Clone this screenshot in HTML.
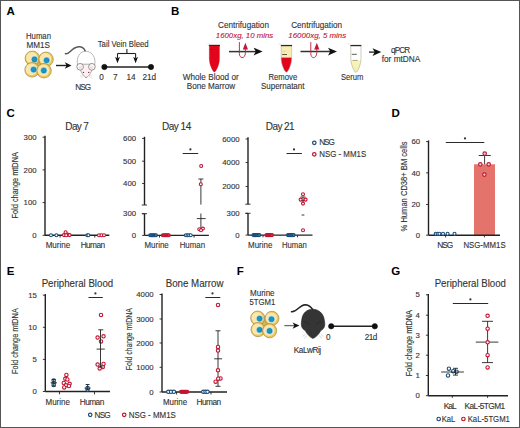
<!DOCTYPE html><html><head><meta charset="utf-8"><style>html,body{margin:0;padding:0;background:#fff;}svg{display:block;}text{font-family:"Liberation Sans",sans-serif;}</style></head><body>
<svg width="520" height="428" viewBox="0 0 520 428">
<rect x="0" y="0" width="520" height="428" fill="#fff"/>
<text x="6.6" y="15.399999999999999" font-size="11.5" fill="#000" font-weight="bold">A</text>
<text x="170.9" y="15.399999999999999" font-size="11.5" fill="#000" font-weight="bold">B</text>
<text x="6.6" y="117.4" font-size="11.5" fill="#000" font-weight="bold">C</text>
<text x="391.40000000000003" y="117.4" font-size="11.5" fill="#000" font-weight="bold">D</text>
<text x="6.8" y="275.0" font-size="11.5" fill="#000" font-weight="bold">E</text>
<text x="236.79999999999998" y="275.0" font-size="11.5" fill="#000" font-weight="bold">F</text>
<text x="391.20000000000005" y="275.2" font-size="11.5" fill="#000" font-weight="bold">G</text>
<text transform="translate(38.5,39) scale(0.9457,1)" font-size="8.2" fill="#333" text-anchor="middle" stroke="#333" stroke-width="0.12">Human</text>
<text transform="translate(38.3,48.2) scale(0.9919,1)" font-size="8.2" fill="#333" text-anchor="middle" stroke="#333" stroke-width="0.12">MM1S</text>
<circle cx="38.625" cy="64.525" r="4" fill="#d9b553"/>
<circle cx="32.4" cy="58.3" r="7.3" fill="#f0c455" stroke="#8f7e4a" stroke-width="0.6"/>
<circle cx="31.9" cy="57.9" r="5.8" fill="#f9e7ad"/>
<circle cx="34.5" cy="59.4" r="3.4" fill="#a3dcea"/>
<circle cx="34.5" cy="59.4" r="2.55" fill="#1795c4" stroke="#11708f" stroke-width="0.4"/>
<circle cx="46" cy="59.3" r="7.3" fill="#f0c455" stroke="#8f7e4a" stroke-width="0.6"/>
<circle cx="45.5" cy="58.9" r="5.8" fill="#f9e7ad"/>
<circle cx="46.6" cy="60.3" r="3.4" fill="#a3dcea"/>
<circle cx="46.6" cy="60.3" r="2.55" fill="#1795c4" stroke="#11708f" stroke-width="0.4"/>
<circle cx="32.1" cy="69.8" r="7.3" fill="#f0c455" stroke="#8f7e4a" stroke-width="0.6"/>
<circle cx="31.6" cy="69.39999999999999" r="5.8" fill="#f9e7ad"/>
<circle cx="33.6" cy="69.6" r="3.4" fill="#a3dcea"/>
<circle cx="33.6" cy="69.6" r="2.55" fill="#1795c4" stroke="#11708f" stroke-width="0.4"/>
<circle cx="44" cy="70.7" r="7.3" fill="#f0c455" stroke="#8f7e4a" stroke-width="0.6"/>
<circle cx="43.5" cy="70.3" r="5.8" fill="#f9e7ad"/>
<circle cx="43.8" cy="70.5" r="3.4" fill="#a3dcea"/>
<circle cx="43.8" cy="70.5" r="2.55" fill="#1795c4" stroke="#11708f" stroke-width="0.4"/>
<line x1="56" y1="65.5" x2="67.5" y2="65.5" stroke="#222" stroke-width="1.4"/>
<path d="M64.8,62.3 L71.5,65.5 L64.8,68.7 L66.6,65.5 Z" fill="#111"/>
<path d="M65.4,53.6 C66.5,54.2 68.5,53.2 70.5,51.2 C72.8,49 75.5,47 78.5,46.7 C81.5,46.5 84,47.8 85.3,51.2" fill="none" stroke="#5a5a5a" stroke-width="1.5" stroke-linecap="round"/>
<path d="M77.4,65.5 L77.3,61.2 C77.4,55.6 80.6,51.3 85.8,51.3 C91,51.3 94.8,55.6 94.9,61.2 L94.8,65.5" fill="#fff" stroke="#8a8a8a" stroke-width="0.6"/>
<path d="M79.6,64.2 C79.8,70 82,75 86.2,77.8 C90.4,75 92.6,70 92.8,64.2 Z" fill="#fbf0f2" stroke="#7a7a7a" stroke-width="0.6"/>
<circle cx="80.1" cy="66.8" r="3.3" fill="#fff" stroke="#666" stroke-width="0.7"/><circle cx="91.9" cy="66.8" r="3.3" fill="#fff" stroke="#666" stroke-width="0.7"/>
<ellipse cx="80.6" cy="67.4" rx="2" ry="2" fill="#f4e0e6"/><ellipse cx="91.4" cy="67.4" rx="2" ry="2" fill="#f4e0e6"/>
<circle cx="83.5" cy="72.4" r="0.7" fill="#8a2040"/><circle cx="88.7" cy="72.4" r="0.7" fill="#8a2040"/><circle cx="86.2" cy="77.3" r="0.6" fill="#c07080"/>
<path d="M80,76 L83.5,75 M80.5,78 L83.8,76 M92.4,76 L89,75 M92,78 L88.7,76" stroke="#bbb" stroke-width="0.4"/>
<text x="82.76" y="90" letter-spacing="-0.885" font-size="8.2" fill="#333" text-anchor="middle" stroke="#333" stroke-width="0.12">NSG</text>
<text transform="translate(123.2,46.9) scale(0.9481,1)" font-size="8.2" fill="#333" text-anchor="middle" stroke="#333" stroke-width="0.12">Tail Vein Bleed</text>
<line x1="126.9" y1="49" x2="126.9" y2="53.5" stroke="#222" stroke-width="1.1"/>
<line x1="117.5" y1="53.5" x2="135.6" y2="53.5" stroke="#222" stroke-width="1.1"/>
<line x1="117.5" y1="53.5" x2="117.5" y2="58" stroke="#222" stroke-width="1.1"/>
<line x1="135.6" y1="53.5" x2="135.6" y2="58" stroke="#222" stroke-width="1.1"/>
<path d="M115.1,57 L117.5,63.3 L119.9,57 L117.5,58.3 Z" fill="#111"/>
<path d="M133.2,57 L135.6,63.3 L138,57 L135.6,58.3 Z" fill="#111"/>
<line x1="104.4" y1="66.9" x2="151" y2="66.9" stroke="#222" stroke-width="1.5"/>
<circle cx="104.4" cy="67" r="2.7" stroke="#111" fill="#111" stroke-width="0.5"/>
<circle cx="151" cy="67" r="2.7" stroke="#111" fill="#111" stroke-width="0.5"/>
<text x="101.6" y="80.2" font-size="8.2" fill="#333" text-anchor="middle" stroke="#333" stroke-width="0.12">0</text>
<text x="115.3" y="80.2" font-size="8.2" fill="#333" text-anchor="middle" stroke="#333" stroke-width="0.12">7</text>
<text x="131" y="80.2" font-size="8.2" fill="#333" text-anchor="middle" stroke="#333" stroke-width="0.12">14</text>
<text x="149.3" y="80.2" font-size="8.2" fill="#333" text-anchor="middle" stroke="#333" stroke-width="0.12">21d</text>
<path d="M209.3,46 L219.5,46 L219.5,58.5 C219.5,64.5 216.0,72 214.4,72 C212.8,72 209.3,64.5 209.3,58.5 Z" fill="#e2061c" stroke="#c01020" stroke-width="0.3"/>
<line x1="209.6" y1="49.5" x2="213" y2="49.5" stroke="#b00010" stroke-width="0.6"/>
<line x1="208.8" y1="45.4" x2="220" y2="45.4" stroke="#2a2a2a" stroke-width="1.2"/>
<line x1="207.5" y1="44" x2="210" y2="44" stroke="#ccc" stroke-width="0.5"/>
<clipPath id="t2"><path d="M281.2,46 L291.6,46 L291.6,58.5 C291.6,64.5 288.0,72.2 286.4,72.2 C284.79999999999995,72.2 281.2,64.5 281.2,58.5 Z"/></clipPath>
<path d="M281.2,46 L291.6,46 L291.6,58.5 C291.6,64.5 288.0,72.2 286.4,72.2 C284.79999999999995,72.2 281.2,64.5 281.2,58.5 Z" fill="#fff"/>
<rect x="280" y="46" width="13" height="11.8" fill="#f8eeb5" clip-path="url(#t2)"/>
<rect x="280" y="57.6" width="13" height="16" fill="#e2061c" clip-path="url(#t2)"/>
<path d="M281.2,46 L291.6,46 L291.6,58.5 C291.6,64.5 288.0,72.2 286.4,72.2 C284.79999999999995,72.2 281.2,64.5 281.2,58.5 Z" fill="none" stroke="#a09a80" stroke-width="0.45"/>
<line x1="282.2" y1="54.5" x2="287" y2="54.5" stroke="#3a3020" stroke-width="0.8"/>
<line x1="282.5" y1="51.3" x2="285.5" y2="51.3" stroke="#c8bb88" stroke-width="0.5"/>
<line x1="280.8" y1="45.5" x2="292.1" y2="45.5" stroke="#2a2a2a" stroke-width="1.2"/>
<line x1="278.5" y1="44" x2="281" y2="44" stroke="#ccc" stroke-width="0.5"/>
<clipPath id="t3"><path d="M350.8,46 L361,46 L361,58.5 C361,64.5 357.5,72.4 355.9,72.4 C354.29999999999995,72.4 350.8,64.5 350.8,58.5 Z"/></clipPath>
<path d="M350.8,46 L361,46 L361,58.5 C361,64.5 357.5,72.4 355.9,72.4 C354.29999999999995,72.4 350.8,64.5 350.8,58.5 Z" fill="#fff"/>
<linearGradient id="yg" x1="0" y1="0" x2="0" y2="1"><stop offset="0" stop-color="#f7f4c0"/><stop offset="1" stop-color="#f3eea8"/></linearGradient>
<rect x="350" y="60.3" width="12" height="13" fill="url(#yg)" clip-path="url(#t3)"/>
<path d="M350.8,46 L361,46 L361,58.5 C361,64.5 357.5,72.4 355.9,72.4 C354.29999999999995,72.4 350.8,64.5 350.8,58.5 Z" fill="none" stroke="#9a9a80" stroke-width="0.5"/>
<line x1="351.8" y1="54.3" x2="356.8" y2="54.3" stroke="#333" stroke-width="0.8"/>
<line x1="352.6" y1="60.4" x2="357.6" y2="60.4" stroke="#8a8450" stroke-width="0.7"/>
<line x1="350.4" y1="45.5" x2="361.4" y2="45.5" stroke="#2a2a2a" stroke-width="1.2"/>
<line x1="347.5" y1="44" x2="350" y2="44" stroke="#ccc" stroke-width="0.5"/>
<line x1="229" y1="51.6" x2="258.6" y2="51.6" stroke="#333" stroke-width="1.5"/>
<path d="M253.60000000000002,47.7 L262.6,51.6 L253.60000000000002,55.5 L255.8,51.6 Z" fill="#111"/>
<path d="M239.4,42.1 L239.4,53.6 C239.4,59.1 245.4,59.1 245.4,52.6 L245.4,49.1" fill="none" stroke="#b0203c" stroke-width="0.9"/>
<path d="M242.8,49.6 L245.4,42.8 L248.0,49.6 Z" fill="#c0183a"/>
<line x1="300.5" y1="51.6" x2="333" y2="51.6" stroke="#333" stroke-width="1.5"/>
<path d="M328,47.7 L337,51.6 L328,55.5 L330.2,51.6 Z" fill="#111"/>
<path d="M310.8,42.1 L310.8,53.6 C310.8,59.1 316.8,59.1 316.8,52.6 L316.8,49.1" fill="none" stroke="#b0203c" stroke-width="0.9"/>
<path d="M314.2,49.6 L316.8,42.8 L319.40000000000003,49.6 Z" fill="#c0183a"/>
<line x1="369" y1="52.1" x2="377" y2="52.1" stroke="#222" stroke-width="1.3"/>
<path d="M372.5,48.3 L381.3,52.1 L372.5,55.9 L374.7,52.1 Z" fill="#111"/>
<text transform="translate(243.5,27.8) scale(0.9869,1)" font-size="8.3" fill="#333" text-anchor="middle" stroke="#333" stroke-width="0.12">Centrifugation</text>
<text transform="translate(244.5,37.7) scale(0.9778,1)" font-size="8" fill="#c01632" text-anchor="middle" font-style="italic" stroke="#c01632" stroke-width="0.12">1600xg, 10 mins</text>
<text transform="translate(316.6,27.8) scale(0.9869,1)" font-size="8.3" fill="#333" text-anchor="middle" stroke="#333" stroke-width="0.12">Centrifugation</text>
<text transform="translate(317.2,37.7) scale(0.9880,1)" font-size="8" fill="#c01632" text-anchor="middle" font-style="italic" stroke="#c01632" stroke-width="0.12">16000xg, 5 mins</text>
<text transform="translate(210.7,79.8) scale(0.9989,1)" font-size="8.2" fill="#333" text-anchor="middle" stroke="#333" stroke-width="0.12">Whole Blood or</text>
<text transform="translate(211,89.3) scale(0.9946,1)" font-size="8.2" fill="#333" text-anchor="middle" stroke="#333" stroke-width="0.12">Bone Marrow</text>
<text transform="translate(282.8,79.6) scale(0.9432,1)" font-size="8.2" fill="#333" text-anchor="middle" stroke="#333" stroke-width="0.12">Remove</text>
<text transform="translate(282.7,89.3) scale(0.9758,1)" font-size="8.2" fill="#333" text-anchor="middle" stroke="#333" stroke-width="0.12">Supernatant</text>
<text transform="translate(352.2,79.6) scale(0.9316,1)" font-size="8.2" fill="#333" text-anchor="middle" stroke="#333" stroke-width="0.12">Serum</text>
<text x="400.12" y="52.7" letter-spacing="-0.958" font-size="8.2" fill="#333" text-anchor="middle" stroke="#333" stroke-width="0.12">qPCR</text>
<text transform="translate(401,61.7) scale(1.0112,1)" font-size="8.2" fill="#333" text-anchor="middle" stroke="#333" stroke-width="0.12">for mtDNA</text>
<text x="76.77" y="129.6" letter-spacing="-0.656" font-size="10" fill="#333" text-anchor="middle" stroke="#333" stroke-width="0.12">Day 7</text>
<text transform="translate(17.9,185.3) rotate(-90) scale(0.8218,1)" font-size="9" fill="#333" text-anchor="middle" stroke="#333" stroke-width="0.12">Fold change mtDNA</text>
<line x1="45" y1="135.8" x2="45" y2="235.3" stroke="#222" stroke-width="1.4"/>
<line x1="42.6" y1="137.2" x2="45" y2="137.2" stroke="#222" stroke-width="0.9"/>
<text transform="translate(36.6,139.85) scale(1.0700,1)" font-size="7.3" fill="#333" text-anchor="end" stroke="#333" stroke-width="0.12">300</text>
<line x1="42.6" y1="169.9" x2="45" y2="169.9" stroke="#222" stroke-width="0.9"/>
<text transform="translate(36.6,172.55) scale(1.0700,1)" font-size="7.3" fill="#333" text-anchor="end" stroke="#333" stroke-width="0.12">200</text>
<line x1="42.6" y1="202.6" x2="45" y2="202.6" stroke="#222" stroke-width="0.9"/>
<text transform="translate(36.6,205.25) scale(1.0700,1)" font-size="7.3" fill="#333" text-anchor="end" stroke="#333" stroke-width="0.12">100</text>
<line x1="42.6" y1="235.3" x2="45" y2="235.3" stroke="#222" stroke-width="0.9"/>
<text transform="translate(36.6,237.95000000000002) scale(1.0700,1)" font-size="7.3" fill="#333" text-anchor="end" stroke="#333" stroke-width="0.12">0</text>
<line x1="45" y1="235.3" x2="109.3" y2="235.3" stroke="#222" stroke-width="1.4"/>
<line x1="60.1" y1="235.3" x2="60.1" y2="237.6" stroke="#222" stroke-width="0.9"/>
<line x1="94.8" y1="235.3" x2="94.8" y2="237.6" stroke="#222" stroke-width="0.9"/>
<circle cx="51" cy="235.2" r="1.5" stroke="#1b4c78" fill="#fff" stroke-width="1.1"/>
<circle cx="56.4" cy="235.2" r="1.5" stroke="#1b4c78" fill="#fff" stroke-width="1.1"/>
<circle cx="64" cy="235.1" r="1.5" stroke="#c01632" fill="#fff" stroke-width="1.1"/>
<circle cx="65.6" cy="232.3" r="1.5" stroke="#c01632" fill="#fff" stroke-width="1.1"/>
<circle cx="67.6" cy="234.6" r="1.5" stroke="#c01632" fill="#fff" stroke-width="1.1"/>
<circle cx="69.6" cy="235.1" r="1.5" stroke="#c01632" fill="#fff" stroke-width="1.1"/>
<circle cx="66.2" cy="235.3" r="1.5" stroke="#c01632" fill="#fff" stroke-width="1.1"/>
<circle cx="87.4" cy="235.2" r="1.5" stroke="#1b4c78" fill="#fff" stroke-width="1.1"/>
<circle cx="88.4" cy="235.2" r="1.5" stroke="#1b4c78" fill="#fff" stroke-width="1.1"/>
<circle cx="99" cy="235.2" r="1.5" stroke="#c01632" fill="#fff" stroke-width="1.1"/>
<circle cx="101.5" cy="235.2" r="1.5" stroke="#c01632" fill="#fff" stroke-width="1.1"/>
<circle cx="104" cy="235.2" r="1.5" stroke="#c01632" fill="#fff" stroke-width="1.1"/>
<text transform="translate(57.9,248) scale(0.9696,1)" font-size="8.3" fill="#333" text-anchor="middle" stroke="#333" stroke-width="0.12">Murine</text>
<text x="92.62" y="248" letter-spacing="-0.564" font-size="8.3" fill="#333" text-anchor="middle" stroke="#333" stroke-width="0.12">Human</text>
<text x="176.37" y="129.6" letter-spacing="-0.457" font-size="10" fill="#333" text-anchor="middle" stroke="#333" stroke-width="0.12">Day 14</text>
<line x1="144.5" y1="136.8" x2="144.5" y2="205" stroke="#222" stroke-width="1.4"/>
<line x1="144.5" y1="213.7" x2="144.5" y2="235.4" stroke="#222" stroke-width="1.4"/>
<line x1="142.1" y1="138.4" x2="144.5" y2="138.4" stroke="#222" stroke-width="0.9"/>
<text transform="translate(136.1,141.05) scale(1.0700,1)" font-size="7.3" fill="#333" text-anchor="end" stroke="#333" stroke-width="0.12">600</text>
<line x1="142.1" y1="161.2" x2="144.5" y2="161.2" stroke="#222" stroke-width="0.9"/>
<text transform="translate(136.1,163.85) scale(1.0700,1)" font-size="7.3" fill="#333" text-anchor="end" stroke="#333" stroke-width="0.12">500</text>
<line x1="142.1" y1="183.5" x2="144.5" y2="183.5" stroke="#222" stroke-width="0.9"/>
<text transform="translate(136.1,186.15) scale(1.0700,1)" font-size="7.3" fill="#333" text-anchor="end" stroke="#333" stroke-width="0.12">400</text>
<line x1="142.1" y1="213.7" x2="144.5" y2="213.7" stroke="#222" stroke-width="0.9"/>
<text transform="translate(136.1,216.35) scale(1.0700,1)" font-size="7.3" fill="#333" text-anchor="end" stroke="#333" stroke-width="0.12">300</text>
<line x1="142.1" y1="235.4" x2="144.5" y2="235.4" stroke="#222" stroke-width="0.9"/>
<text transform="translate(136.1,238.05) scale(1.0700,1)" font-size="7.3" fill="#333" text-anchor="end" stroke="#333" stroke-width="0.12">0</text>
<line x1="141.8" y1="205" x2="147" y2="205" stroke="#222" stroke-width="0.9"/>
<line x1="141.8" y1="213.7" x2="147" y2="213.7" stroke="#222" stroke-width="0.9"/>
<line x1="144.5" y1="235.4" x2="208.9" y2="235.4" stroke="#222" stroke-width="1.4"/>
<line x1="159.5" y1="235.4" x2="159.5" y2="237.6" stroke="#222" stroke-width="0.9"/>
<line x1="194.1" y1="235.4" x2="194.1" y2="237.6" stroke="#222" stroke-width="0.9"/>
<circle cx="150.2" cy="235.3" r="1.5" stroke="#1b4c78" fill="#4f79a0" stroke-width="1.1"/>
<circle cx="151.34" cy="235.3" r="1.5" stroke="#1b4c78" fill="#4f79a0" stroke-width="1.1"/>
<circle cx="152.48" cy="235.3" r="1.5" stroke="#1b4c78" fill="#4f79a0" stroke-width="1.1"/>
<circle cx="153.62" cy="235.3" r="1.5" stroke="#1b4c78" fill="#4f79a0" stroke-width="1.1"/>
<circle cx="154.76" cy="235.3" r="1.5" stroke="#1b4c78" fill="#4f79a0" stroke-width="1.1"/>
<circle cx="155.9" cy="235.3" r="1.5" stroke="#1b4c78" fill="#4f79a0" stroke-width="1.1"/>
<circle cx="162.9" cy="235.3" r="1.5" stroke="#c01632" fill="#d4303e" stroke-width="1.1"/>
<circle cx="164.08" cy="235.3" r="1.5" stroke="#c01632" fill="#d4303e" stroke-width="1.1"/>
<circle cx="165.26000000000002" cy="235.3" r="1.5" stroke="#c01632" fill="#d4303e" stroke-width="1.1"/>
<circle cx="166.44" cy="235.3" r="1.5" stroke="#c01632" fill="#d4303e" stroke-width="1.1"/>
<circle cx="167.62" cy="235.3" r="1.5" stroke="#c01632" fill="#d4303e" stroke-width="1.1"/>
<circle cx="168.8" cy="235.3" r="1.5" stroke="#c01632" fill="#d4303e" stroke-width="1.1"/>
<circle cx="185.9" cy="235.3" r="1.5" stroke="#1b4c78" fill="#fff" stroke-width="1.1"/>
<circle cx="187.5" cy="235.3" r="1.5" stroke="#1b4c78" fill="#fff" stroke-width="1.1"/>
<circle cx="189.1" cy="235.3" r="1.5" stroke="#1b4c78" fill="#fff" stroke-width="1.1"/>
<circle cx="190.7" cy="235.3" r="1.5" stroke="#1b4c78" fill="#fff" stroke-width="1.1"/>
<line x1="200.9" y1="179" x2="200.9" y2="204.6" stroke="#222" stroke-width="0.9"/>
<line x1="198.4" y1="179" x2="203.4" y2="179" stroke="#222" stroke-width="0.9"/>
<line x1="200.9" y1="213.5" x2="200.9" y2="229" stroke="#222" stroke-width="0.9"/>
<line x1="196.8" y1="218.6" x2="205.6" y2="218.6" stroke="#222" stroke-width="0.9"/>
<circle cx="201.2" cy="166" r="1.5" stroke="#c01632" fill="#fff" stroke-width="1.1"/>
<circle cx="200.8" cy="184.3" r="1.5" stroke="#c01632" fill="#fff" stroke-width="1.1"/>
<circle cx="199.3" cy="229.3" r="1.5" stroke="#c01632" fill="#fff" stroke-width="1.1"/>
<circle cx="202.9" cy="228.6" r="1.5" stroke="#c01632" fill="#fff" stroke-width="1.1"/>
<circle cx="201" cy="230.2" r="1.5" stroke="#c01632" fill="#fff" stroke-width="1.1"/>
<line x1="182.7" y1="153.5" x2="198.2" y2="153.5" stroke="#2a2a2a" stroke-width="1.0"/>
<circle cx="190.4" cy="149.4" r="1.1" fill="#333"/>
<text transform="translate(156.6,248.1) scale(0.9538,1)" font-size="8.3" fill="#333" text-anchor="middle" stroke="#333" stroke-width="0.12">Murine</text>
<text transform="translate(192.4,248.1) scale(0.9530,1)" font-size="8.3" fill="#333" text-anchor="middle" stroke="#333" stroke-width="0.12">Human</text>
<text x="279.91" y="129.6" letter-spacing="-0.577" font-size="10" fill="#333" text-anchor="middle" stroke="#333" stroke-width="0.12">Day 21</text>
<line x1="248" y1="137.3" x2="248" y2="204.2" stroke="#222" stroke-width="1.4"/>
<line x1="248" y1="213.3" x2="248" y2="235.1" stroke="#222" stroke-width="1.4"/>
<line x1="245.6" y1="139" x2="248" y2="139" stroke="#222" stroke-width="0.9"/>
<text transform="translate(239.6,141.65) scale(1.0700,1)" font-size="7.3" fill="#333" text-anchor="end" stroke="#333" stroke-width="0.12">6000</text>
<line x1="245.6" y1="162.5" x2="248" y2="162.5" stroke="#222" stroke-width="0.9"/>
<text transform="translate(239.6,165.15) scale(1.0700,1)" font-size="7.3" fill="#333" text-anchor="end" stroke="#333" stroke-width="0.12">4000</text>
<line x1="245.6" y1="186.5" x2="248" y2="186.5" stroke="#222" stroke-width="0.9"/>
<text transform="translate(239.6,189.15) scale(1.0700,1)" font-size="7.3" fill="#333" text-anchor="end" stroke="#333" stroke-width="0.12">2000</text>
<line x1="245.6" y1="213.3" x2="248" y2="213.3" stroke="#222" stroke-width="0.9"/>
<text transform="translate(239.6,215.95000000000002) scale(1.0700,1)" font-size="7.3" fill="#333" text-anchor="end" stroke="#333" stroke-width="0.12">300</text>
<line x1="245.6" y1="235.1" x2="248" y2="235.1" stroke="#222" stroke-width="0.9"/>
<text transform="translate(239.6,237.75) scale(1.0700,1)" font-size="7.3" fill="#333" text-anchor="end" stroke="#333" stroke-width="0.12">0</text>
<line x1="245.3" y1="204.2" x2="250.5" y2="204.2" stroke="#222" stroke-width="0.9"/>
<line x1="245.3" y1="213.3" x2="250.5" y2="213.3" stroke="#222" stroke-width="0.9"/>
<line x1="248" y1="235.1" x2="312.5" y2="235.1" stroke="#222" stroke-width="1.4"/>
<line x1="263" y1="235.1" x2="263" y2="237.3" stroke="#222" stroke-width="0.9"/>
<line x1="297.5" y1="235.1" x2="297.5" y2="237.3" stroke="#222" stroke-width="0.9"/>
<circle cx="253.5" cy="235.1" r="1.5" stroke="#1b4c78" fill="#4f79a0" stroke-width="1.1"/>
<circle cx="254.66" cy="235.1" r="1.5" stroke="#1b4c78" fill="#4f79a0" stroke-width="1.1"/>
<circle cx="255.82" cy="235.1" r="1.5" stroke="#1b4c78" fill="#4f79a0" stroke-width="1.1"/>
<circle cx="256.98" cy="235.1" r="1.5" stroke="#1b4c78" fill="#4f79a0" stroke-width="1.1"/>
<circle cx="258.14" cy="235.1" r="1.5" stroke="#1b4c78" fill="#4f79a0" stroke-width="1.1"/>
<circle cx="259.3" cy="235.1" r="1.5" stroke="#1b4c78" fill="#4f79a0" stroke-width="1.1"/>
<circle cx="266.5" cy="235.1" r="1.5" stroke="#c01632" fill="#d4303e" stroke-width="1.1"/>
<circle cx="267.6" cy="235.1" r="1.5" stroke="#c01632" fill="#d4303e" stroke-width="1.1"/>
<circle cx="268.7" cy="235.1" r="1.5" stroke="#c01632" fill="#d4303e" stroke-width="1.1"/>
<circle cx="269.8" cy="235.1" r="1.5" stroke="#c01632" fill="#d4303e" stroke-width="1.1"/>
<circle cx="270.9" cy="235.1" r="1.5" stroke="#c01632" fill="#d4303e" stroke-width="1.1"/>
<circle cx="272.0" cy="235.1" r="1.5" stroke="#c01632" fill="#d4303e" stroke-width="1.1"/>
<circle cx="288.0" cy="235.1" r="1.5" stroke="#1b4c78" fill="#4f79a0" stroke-width="1.1"/>
<circle cx="289.12" cy="235.1" r="1.5" stroke="#1b4c78" fill="#4f79a0" stroke-width="1.1"/>
<circle cx="290.24" cy="235.1" r="1.5" stroke="#1b4c78" fill="#4f79a0" stroke-width="1.1"/>
<circle cx="291.36" cy="235.1" r="1.5" stroke="#1b4c78" fill="#4f79a0" stroke-width="1.1"/>
<circle cx="292.48" cy="235.1" r="1.5" stroke="#1b4c78" fill="#4f79a0" stroke-width="1.1"/>
<circle cx="293.6" cy="235.1" r="1.5" stroke="#1b4c78" fill="#4f79a0" stroke-width="1.1"/>
<line x1="303" y1="197" x2="303" y2="204.2" stroke="#222" stroke-width="0.9"/>
<line x1="300.5" y1="197" x2="305.5" y2="197" stroke="#222" stroke-width="0.9"/>
<line x1="299" y1="200.7" x2="307" y2="200.7" stroke="#222" stroke-width="0.9"/>
<line x1="301.6" y1="215" x2="304.4" y2="215" stroke="#222" stroke-width="0.9"/>
<circle cx="303" cy="194.3" r="1.5" stroke="#c01632" fill="#fff" stroke-width="1.1"/>
<circle cx="300.6" cy="199.6" r="1.5" stroke="#c01632" fill="#fff" stroke-width="1.1"/>
<circle cx="305.6" cy="199.6" r="1.5" stroke="#c01632" fill="#fff" stroke-width="1.1"/>
<circle cx="303" cy="203.6" r="1.5" stroke="#c01632" fill="#fff" stroke-width="1.1"/>
<circle cx="303" cy="230.3" r="1.5" stroke="#c01632" fill="#fff" stroke-width="1.1"/>
<line x1="286.5" y1="153.5" x2="301.9" y2="153.5" stroke="#2a2a2a" stroke-width="1.0"/>
<circle cx="294" cy="149.4" r="1.1" fill="#333"/>
<text transform="translate(260.2,248.1) scale(0.9617,1)" font-size="8.3" fill="#333" text-anchor="middle" stroke="#333" stroke-width="0.12">Murine</text>
<text transform="translate(294.3,248.1) scale(0.9306,1)" font-size="8.3" fill="#333" text-anchor="middle" stroke="#333" stroke-width="0.12">Human</text>
<circle cx="314.3" cy="142.8" r="1.75" stroke="#1b4c78" fill="#fff" stroke-width="1.2"/>
<text x="319.20" y="145.4" letter-spacing="-0.985" font-size="8.2" fill="#333" stroke="#333" stroke-width="0.12">NSG</text>
<circle cx="314.3" cy="154.3" r="1.75" stroke="#c01632" fill="#fff" stroke-width="1.2"/>
<text transform="translate(319.2,157.1) scale(0.9641,1)" font-size="8.2" fill="#333" stroke="#333" stroke-width="0.12">NSG - MM1S</text>
<text transform="translate(407,186.5) rotate(-90) scale(0.8428,1)" font-size="9" fill="#333" text-anchor="middle" stroke="#333" stroke-width="0.12">% Human CD38+ BM cells</text>
<rect x="474" y="164.3" width="21" height="70.9" fill="#e4746b"/>
<line x1="428.5" y1="140.4" x2="428.5" y2="235.2" stroke="#222" stroke-width="1.4"/>
<line x1="426.1" y1="141.6" x2="428.5" y2="141.6" stroke="#222" stroke-width="0.9"/>
<text transform="translate(420.1,144.25) scale(1.0700,1)" font-size="7.3" fill="#333" text-anchor="end" stroke="#333" stroke-width="0.12">60</text>
<line x1="426.1" y1="172.9" x2="428.5" y2="172.9" stroke="#222" stroke-width="0.9"/>
<text transform="translate(420.1,175.55) scale(1.0700,1)" font-size="7.3" fill="#333" text-anchor="end" stroke="#333" stroke-width="0.12">40</text>
<line x1="426.1" y1="204.5" x2="428.5" y2="204.5" stroke="#222" stroke-width="0.9"/>
<text transform="translate(420.1,207.15) scale(1.0700,1)" font-size="7.3" fill="#333" text-anchor="end" stroke="#333" stroke-width="0.12">20</text>
<line x1="426.1" y1="235.2" x2="428.5" y2="235.2" stroke="#222" stroke-width="0.9"/>
<text transform="translate(420.1,237.85) scale(1.0700,1)" font-size="7.3" fill="#333" text-anchor="end" stroke="#333" stroke-width="0.12">0</text>
<line x1="428.5" y1="235.2" x2="500" y2="235.2" stroke="#222" stroke-width="1.4"/>
<line x1="445.6" y1="235.2" x2="445.6" y2="237.4" stroke="#222" stroke-width="0.9"/>
<line x1="484.4" y1="235.2" x2="484.4" y2="237.4" stroke="#222" stroke-width="0.9"/>
<line x1="484.6" y1="155.5" x2="484.6" y2="164.3" stroke="#222" stroke-width="0.9"/>
<line x1="478.7" y1="155.5" x2="490.8" y2="155.5" stroke="#222" stroke-width="0.9"/>
<circle cx="484.7" cy="153.6" r="1.75" stroke="#c01632" fill="#f4d4d0" stroke-width="1.15"/>
<circle cx="480.3" cy="164.3" r="1.75" stroke="#c01632" fill="#f4d4d0" stroke-width="1.15"/>
<circle cx="488.7" cy="164.3" r="1.75" stroke="#c01632" fill="#f4d4d0" stroke-width="1.15"/>
<circle cx="484.4" cy="174.6" r="1.75" stroke="#c01632" fill="#f4d4d0" stroke-width="1.15"/>
<circle cx="435.7" cy="233.8" r="1.5" stroke="#1b4c78" fill="#fff" stroke-width="1.1"/>
<circle cx="437.6" cy="233.8" r="1.5" stroke="#1b4c78" fill="#fff" stroke-width="1.1"/>
<circle cx="439.4" cy="233.8" r="1.5" stroke="#1b4c78" fill="#fff" stroke-width="1.1"/>
<circle cx="443" cy="233.8" r="1.5" stroke="#1b4c78" fill="#fff" stroke-width="1.1"/>
<circle cx="447.6" cy="233.8" r="1.5" stroke="#1b4c78" fill="#fff" stroke-width="1.1"/>
<circle cx="454.5" cy="233.8" r="1.5" stroke="#1b4c78" fill="#fff" stroke-width="1.1"/>
<line x1="445.8" y1="142.5" x2="484.3" y2="142.5" stroke="#2a2a2a" stroke-width="1.0"/>
<circle cx="465" cy="138.4" r="1.1" fill="#333"/>
<text x="444.78" y="248.2" letter-spacing="-1.043" font-size="8.3" fill="#333" text-anchor="middle" stroke="#333" stroke-width="0.12">NSG</text>
<text transform="translate(484.5,248.2) scale(0.9456,1)" font-size="8.3" fill="#333" text-anchor="middle" stroke="#333" stroke-width="0.12">NSG-MM1S</text>
<text transform="translate(77.4,287.3) scale(0.9684,1)" font-size="10" fill="#333" text-anchor="middle" stroke="#333" stroke-width="0.12">Peripheral Blood</text>
<text transform="translate(18,341.1) rotate(-90) scale(0.8120,1)" font-size="9" fill="#333" text-anchor="middle" stroke="#333" stroke-width="0.12">Fold change mtDNA</text>
<line x1="45.3" y1="294" x2="45.3" y2="391.5" stroke="#222" stroke-width="1.4"/>
<line x1="42.9" y1="295.2" x2="45.3" y2="295.2" stroke="#222" stroke-width="0.9"/>
<text transform="translate(36.9,297.84999999999997) scale(1.0700,1)" font-size="7.3" fill="#333" text-anchor="end" stroke="#333" stroke-width="0.12">15</text>
<line x1="42.9" y1="327.3" x2="45.3" y2="327.3" stroke="#222" stroke-width="0.9"/>
<text transform="translate(36.9,329.95) scale(1.0700,1)" font-size="7.3" fill="#333" text-anchor="end" stroke="#333" stroke-width="0.12">10</text>
<line x1="42.9" y1="359.4" x2="45.3" y2="359.4" stroke="#222" stroke-width="0.9"/>
<text transform="translate(36.9,362.04999999999995) scale(1.0700,1)" font-size="7.3" fill="#333" text-anchor="end" stroke="#333" stroke-width="0.12">5</text>
<line x1="42.9" y1="391.5" x2="45.3" y2="391.5" stroke="#222" stroke-width="0.9"/>
<text transform="translate(36.9,394.15) scale(1.0700,1)" font-size="7.3" fill="#333" text-anchor="end" stroke="#333" stroke-width="0.12">0</text>
<line x1="45.3" y1="391.5" x2="110" y2="391.5" stroke="#222" stroke-width="1.4"/>
<line x1="59.5" y1="391.5" x2="59.5" y2="394.3" stroke="#222" stroke-width="0.9"/>
<line x1="94.5" y1="391.5" x2="94.5" y2="394.3" stroke="#222" stroke-width="0.9"/>
<circle cx="53.7" cy="380.5" r="1.7" stroke="#1b4c78" fill="#fff" stroke-width="1.1"/>
<circle cx="53.7" cy="383" r="1.7" stroke="#1b4c78" fill="#fff" stroke-width="1.1"/>
<circle cx="53.7" cy="385" r="1.7" stroke="#1b4c78" fill="#fff" stroke-width="1.1"/>
<line x1="53.7" y1="379.5" x2="53.7" y2="386" stroke="#222" stroke-width="0.9"/>
<line x1="51.7" y1="379.5" x2="55.7" y2="379.5" stroke="#222" stroke-width="0.9"/>
<line x1="51.7" y1="386" x2="55.7" y2="386" stroke="#222" stroke-width="0.9"/>
<line x1="50.6" y1="382.8" x2="57" y2="382.8" stroke="#222" stroke-width="0.9"/>
<circle cx="66.4" cy="374.9" r="1.7" stroke="#c01632" fill="#fff" stroke-width="1.1"/>
<circle cx="65.3" cy="378.8" r="1.7" stroke="#c01632" fill="#fff" stroke-width="1.1"/>
<circle cx="67.4" cy="379.5" r="1.7" stroke="#c01632" fill="#fff" stroke-width="1.1"/>
<circle cx="63.8" cy="383" r="1.7" stroke="#c01632" fill="#fff" stroke-width="1.1"/>
<circle cx="69.6" cy="383.8" r="1.7" stroke="#c01632" fill="#fff" stroke-width="1.1"/>
<circle cx="66" cy="385.3" r="1.7" stroke="#c01632" fill="#fff" stroke-width="1.1"/>
<circle cx="64.2" cy="387.4" r="1.7" stroke="#c01632" fill="#fff" stroke-width="1.1"/>
<circle cx="68.9" cy="386" r="1.7" stroke="#c01632" fill="#fff" stroke-width="1.1"/>
<circle cx="87.6" cy="389.5" r="1.7" stroke="#1b4c78" fill="#fff" stroke-width="1.1"/>
<circle cx="87.6" cy="388" r="1.7" stroke="#1b4c78" fill="#fff" stroke-width="1.1"/>
<line x1="87.6" y1="384.5" x2="87.6" y2="390" stroke="#222" stroke-width="0.9"/>
<line x1="85.6" y1="384.5" x2="89.6" y2="384.5" stroke="#222" stroke-width="0.9"/>
<line x1="84.6" y1="388.1" x2="90.6" y2="388.1" stroke="#222" stroke-width="0.9"/>
<circle cx="101" cy="315" r="1.7" stroke="#c01632" fill="#fff" stroke-width="1.1"/>
<circle cx="97.6" cy="337.6" r="1.7" stroke="#c01632" fill="#fff" stroke-width="1.1"/>
<circle cx="103.5" cy="336.3" r="1.7" stroke="#c01632" fill="#fff" stroke-width="1.1"/>
<circle cx="101" cy="341.4" r="1.7" stroke="#c01632" fill="#fff" stroke-width="1.1"/>
<circle cx="97.6" cy="364.6" r="1.7" stroke="#c01632" fill="#fff" stroke-width="1.1"/>
<circle cx="103.5" cy="364" r="1.7" stroke="#c01632" fill="#fff" stroke-width="1.1"/>
<circle cx="99.7" cy="368.4" r="1.7" stroke="#c01632" fill="#fff" stroke-width="1.1"/>
<circle cx="102.8" cy="367" r="1.7" stroke="#c01632" fill="#fff" stroke-width="1.1"/>
<line x1="100.5" y1="329.8" x2="100.5" y2="367" stroke="#222" stroke-width="0.9"/>
<line x1="98.3" y1="329.8" x2="103.3" y2="329.8" stroke="#222" stroke-width="0.9"/>
<line x1="98.3" y1="367" x2="103.3" y2="367" stroke="#222" stroke-width="0.9"/>
<line x1="96.6" y1="349.1" x2="104.8" y2="349.1" stroke="#222" stroke-width="0.9"/>
<line x1="88.5" y1="297.5" x2="102.8" y2="297.5" stroke="#2a2a2a" stroke-width="1.0"/>
<circle cx="95.4" cy="293.4" r="1.1" fill="#333"/>
<text transform="translate(57.7,404.9) scale(0.9657,1)" font-size="8.3" fill="#333" text-anchor="middle" stroke="#333" stroke-width="0.12">Murine</text>
<text x="91.72" y="404.9" letter-spacing="-0.564" font-size="8.3" fill="#333" text-anchor="middle" stroke="#333" stroke-width="0.12">Human</text>
<text transform="translate(194.6,287.3) scale(0.9719,1)" font-size="10" fill="#333" text-anchor="middle" stroke="#333" stroke-width="0.12">Bone Marrow</text>
<text transform="translate(131.6,339.2) rotate(-90) scale(0.7651,1)" font-size="9" fill="#333" text-anchor="middle" stroke="#333" stroke-width="0.12">Fold change mtDNA</text>
<line x1="162" y1="293.5" x2="162" y2="392" stroke="#222" stroke-width="1.4"/>
<line x1="159.6" y1="294.5" x2="162" y2="294.5" stroke="#222" stroke-width="0.9"/>
<text transform="translate(153.6,297.15) scale(1.0700,1)" font-size="7.3" fill="#333" text-anchor="end" stroke="#333" stroke-width="0.12">4000</text>
<line x1="159.6" y1="319" x2="162" y2="319" stroke="#222" stroke-width="0.9"/>
<text transform="translate(153.6,321.65) scale(1.0700,1)" font-size="7.3" fill="#333" text-anchor="end" stroke="#333" stroke-width="0.12">3000</text>
<line x1="159.6" y1="343" x2="162" y2="343" stroke="#222" stroke-width="0.9"/>
<text transform="translate(153.6,345.65) scale(1.0700,1)" font-size="7.3" fill="#333" text-anchor="end" stroke="#333" stroke-width="0.12">2000</text>
<line x1="159.6" y1="367.3" x2="162" y2="367.3" stroke="#222" stroke-width="0.9"/>
<text transform="translate(153.6,369.95) scale(1.0700,1)" font-size="7.3" fill="#333" text-anchor="end" stroke="#333" stroke-width="0.12">1000</text>
<line x1="159.6" y1="392" x2="162" y2="392" stroke="#222" stroke-width="0.9"/>
<text transform="translate(153.6,394.65) scale(1.0700,1)" font-size="7.3" fill="#333" text-anchor="end" stroke="#333" stroke-width="0.12">0</text>
<line x1="162" y1="392" x2="227" y2="392" stroke="#222" stroke-width="1.4"/>
<line x1="176.6" y1="392" x2="176.6" y2="394.5" stroke="#222" stroke-width="0.9"/>
<line x1="211" y1="392" x2="211" y2="394.5" stroke="#222" stroke-width="0.9"/>
<circle cx="168.3" cy="391.8" r="1.7" stroke="#1b4c78" fill="#fff" stroke-width="1.1"/>
<circle cx="171" cy="391.8" r="1.7" stroke="#1b4c78" fill="#fff" stroke-width="1.1"/>
<circle cx="173.9" cy="391.8" r="1.7" stroke="#1b4c78" fill="#fff" stroke-width="1.1"/>
<circle cx="181.0" cy="391.8" r="1.5" stroke="#c01632" fill="#d01830" stroke-width="1.1"/>
<circle cx="181.88571428571427" cy="391.8" r="1.5" stroke="#c01632" fill="#d01830" stroke-width="1.1"/>
<circle cx="182.77142857142857" cy="391.8" r="1.5" stroke="#c01632" fill="#d01830" stroke-width="1.1"/>
<circle cx="183.65714285714284" cy="391.8" r="1.5" stroke="#c01632" fill="#d01830" stroke-width="1.1"/>
<circle cx="184.54285714285714" cy="391.8" r="1.5" stroke="#c01632" fill="#d01830" stroke-width="1.1"/>
<circle cx="185.42857142857142" cy="391.8" r="1.5" stroke="#c01632" fill="#d01830" stroke-width="1.1"/>
<circle cx="186.31428571428572" cy="391.8" r="1.5" stroke="#c01632" fill="#d01830" stroke-width="1.1"/>
<circle cx="187.2" cy="391.8" r="1.5" stroke="#c01632" fill="#d01830" stroke-width="1.1"/>
<circle cx="203.3" cy="391.8" r="1.7" stroke="#1b4c78" fill="#fff" stroke-width="1.1"/>
<circle cx="205.5" cy="391.8" r="1.7" stroke="#1b4c78" fill="#fff" stroke-width="1.1"/>
<circle cx="207.5" cy="391.8" r="1.7" stroke="#1b4c78" fill="#fff" stroke-width="1.1"/>
<line x1="218" y1="330.8" x2="218" y2="386.3" stroke="#222" stroke-width="0.9"/>
<line x1="215.5" y1="330.8" x2="220.5" y2="330.8" stroke="#222" stroke-width="0.9"/>
<line x1="215.5" y1="386.3" x2="220.5" y2="386.3" stroke="#222" stroke-width="0.9"/>
<line x1="214.2" y1="358.8" x2="222.1" y2="358.8" stroke="#222" stroke-width="0.9"/>
<circle cx="218" cy="305" r="1.7" stroke="#c01632" fill="#fff" stroke-width="1.1"/>
<circle cx="218" cy="346.9" r="1.7" stroke="#c01632" fill="#fff" stroke-width="1.1"/>
<circle cx="218" cy="350.6" r="1.7" stroke="#c01632" fill="#fff" stroke-width="1.1"/>
<circle cx="218" cy="370.3" r="1.7" stroke="#c01632" fill="#fff" stroke-width="1.1"/>
<circle cx="220.5" cy="378.5" r="1.7" stroke="#c01632" fill="#fff" stroke-width="1.1"/>
<circle cx="218.2" cy="378.7" r="1.7" stroke="#c01632" fill="#fff" stroke-width="1.1"/>
<circle cx="215.6" cy="381.7" r="1.7" stroke="#c01632" fill="#fff" stroke-width="1.1"/>
<line x1="205.3" y1="297.5" x2="220.3" y2="297.5" stroke="#2a2a2a" stroke-width="1.0"/>
<circle cx="212.5" cy="293.4" r="1.1" fill="#333"/>
<text transform="translate(175,404.9) scale(0.9578,1)" font-size="8.3" fill="#333" text-anchor="middle" stroke="#333" stroke-width="0.12">Murine</text>
<text x="208.56" y="404.9" letter-spacing="-0.489" font-size="8.3" fill="#333" text-anchor="middle" stroke="#333" stroke-width="0.12">Human</text>
<circle cx="90.2" cy="414.8" r="1.75" stroke="#1b4c78" fill="#fff" stroke-width="1.2"/>
<text x="94.50" y="417.6" letter-spacing="-0.785" font-size="8.2" fill="#333" stroke="#333" stroke-width="0.12">NSG</text>
<circle cx="124.2" cy="414.8" r="1.75" stroke="#c01632" fill="#fff" stroke-width="1.2"/>
<text transform="translate(128.7,417.6) scale(0.9682,1)" font-size="8.2" fill="#333" stroke="#333" stroke-width="0.12">NSG - MM1S</text>
<text transform="translate(262.3,296.2) scale(0.9814,1)" font-size="8.2" fill="#333" text-anchor="middle" stroke="#333" stroke-width="0.12">Murine</text>
<text transform="translate(262.4,305.3) scale(0.9400,1)" font-size="8.2" fill="#333" text-anchor="middle" stroke="#333" stroke-width="0.12">5TGM1</text>
<circle cx="264.325" cy="324.225" r="4" fill="#d9b553"/>
<circle cx="257.7" cy="318.1" r="7.1" fill="#f0c455" stroke="#8f7e4a" stroke-width="0.6"/>
<circle cx="257.2" cy="317.70000000000005" r="5.6" fill="#f9e7ad"/>
<circle cx="259.6" cy="318.6" r="3.4" fill="#a3dcea"/>
<circle cx="259.6" cy="318.6" r="2.55" fill="#1795c4" stroke="#11708f" stroke-width="0.4"/>
<circle cx="271.9" cy="318.4" r="7.1" fill="#f0c455" stroke="#8f7e4a" stroke-width="0.6"/>
<circle cx="271.4" cy="318.0" r="5.6" fill="#f9e7ad"/>
<circle cx="271.5" cy="319.2" r="3.4" fill="#a3dcea"/>
<circle cx="271.5" cy="319.2" r="2.55" fill="#1795c4" stroke="#11708f" stroke-width="0.4"/>
<circle cx="258.1" cy="329.6" r="7.1" fill="#f0c455" stroke="#8f7e4a" stroke-width="0.6"/>
<circle cx="257.6" cy="329.20000000000005" r="5.6" fill="#f9e7ad"/>
<circle cx="259.6" cy="329.8" r="3.4" fill="#a3dcea"/>
<circle cx="259.6" cy="329.8" r="2.55" fill="#1795c4" stroke="#11708f" stroke-width="0.4"/>
<circle cx="269.6" cy="330.8" r="7.1" fill="#f0c455" stroke="#8f7e4a" stroke-width="0.6"/>
<circle cx="269.1" cy="330.40000000000003" r="5.6" fill="#f9e7ad"/>
<circle cx="269.6" cy="330.9" r="3.4" fill="#a3dcea"/>
<circle cx="269.6" cy="330.9" r="2.55" fill="#1795c4" stroke="#11708f" stroke-width="0.4"/>
<line x1="284.3" y1="325.6" x2="295" y2="325.6" stroke="#6a6a80" stroke-width="1.3"/>
<path d="M292.6,322.5 L299.4,325.6 L292.6,328.7 L294.4,325.6 Z" fill="#111"/>
<path d="M291.4,311.7 C293.5,311.9 296,310.6 298.5,308.3 C300.5,306.4 302.5,304.8 305,304.7 C308,304.7 310.5,306.2 313,309.8" fill="none" stroke="#222" stroke-width="1.4" stroke-linecap="round"/>
<path d="M312.6,309.2 C306.5,309.2 302.6,313.6 301.9,319 C301.5,321.8 301,324 301.6,326.3 C302.2,328.5 303.6,329.6 305.2,330.6 C307.2,334.2 310.2,337.6 312.9,338.4 C315.8,337.6 318.8,334.2 320.8,330.6 C322.4,329.6 323.9,328.5 324.5,326.3 C325.1,324 324.6,321.8 324.1,319 C323.2,313.6 318.8,309.2 312.6,309.2 Z" fill="#353535" stroke="#1e1e1e" stroke-width="0.6"/>
<path d="M304,322 C306,321 308,322.5 309,325 M321.5,322 C319.5,321 317.5,322.5 316.5,325" fill="none" stroke="#262626" stroke-width="0.7"/>
<path d="M305.5,334 L302.5,336.5 M306.5,335.5 L304.5,338.5 M320.5,334 L323.5,336.5 M319.5,335.5 L321.5,338.5" stroke="#aaa" stroke-width="0.45"/>
<line x1="331.2" y1="326.3" x2="374.8" y2="326.3" stroke="#222" stroke-width="1.5"/>
<circle cx="331.2" cy="326.3" r="2.7" stroke="#111" fill="#111" stroke-width="0.5"/>
<circle cx="374.8" cy="326.3" r="2.7" stroke="#111" fill="#111" stroke-width="0.5"/>
<text x="328.2" y="339.8" font-size="8.2" fill="#333" text-anchor="middle" stroke="#333" stroke-width="0.12">0</text>
<text x="370.75" y="339.8" letter-spacing="-0.491" font-size="8.2" fill="#333" text-anchor="middle" stroke="#333" stroke-width="0.12">21d</text>
<text x="307.27" y="352.8" letter-spacing="-0.463" font-size="8.2" fill="#333" text-anchor="middle" stroke="#333" stroke-width="0.12">KaLwRij</text>
<text transform="translate(470.3,287.3) scale(0.9657,1)" font-size="10" fill="#333" text-anchor="middle" stroke="#333" stroke-width="0.12">Peripheral Blood</text>
<text transform="translate(412,343.2) rotate(-90) scale(0.8194,1)" font-size="9" fill="#333" text-anchor="middle" stroke="#333" stroke-width="0.12">Fold change mtDNA</text>
<line x1="428.3" y1="294" x2="428.3" y2="395.7" stroke="#222" stroke-width="1.4"/>
<line x1="425.90000000000003" y1="294.8" x2="428.3" y2="294.8" stroke="#222" stroke-width="0.9"/>
<text transform="translate(419.90000000000003,297.45) scale(1.0700,1)" font-size="7.3" fill="#333" text-anchor="end" stroke="#333" stroke-width="0.12">5</text>
<line x1="425.90000000000003" y1="315.2" x2="428.3" y2="315.2" stroke="#222" stroke-width="0.9"/>
<text transform="translate(419.90000000000003,317.84999999999997) scale(1.0700,1)" font-size="7.3" fill="#333" text-anchor="end" stroke="#333" stroke-width="0.12">4</text>
<line x1="425.90000000000003" y1="335.2" x2="428.3" y2="335.2" stroke="#222" stroke-width="0.9"/>
<text transform="translate(419.90000000000003,337.84999999999997) scale(1.0700,1)" font-size="7.3" fill="#333" text-anchor="end" stroke="#333" stroke-width="0.12">3</text>
<line x1="425.90000000000003" y1="355.2" x2="428.3" y2="355.2" stroke="#222" stroke-width="0.9"/>
<text transform="translate(419.90000000000003,357.84999999999997) scale(1.0700,1)" font-size="7.3" fill="#333" text-anchor="end" stroke="#333" stroke-width="0.12">2</text>
<line x1="425.90000000000003" y1="375.5" x2="428.3" y2="375.5" stroke="#222" stroke-width="0.9"/>
<text transform="translate(419.90000000000003,378.15) scale(1.0700,1)" font-size="7.3" fill="#333" text-anchor="end" stroke="#333" stroke-width="0.12">1</text>
<line x1="425.90000000000003" y1="395.7" x2="428.3" y2="395.7" stroke="#222" stroke-width="0.9"/>
<text transform="translate(419.90000000000003,398.34999999999997) scale(1.0700,1)" font-size="7.3" fill="#333" text-anchor="end" stroke="#333" stroke-width="0.12">0</text>
<line x1="428.3" y1="395.7" x2="508" y2="395.7" stroke="#222" stroke-width="1.4"/>
<line x1="452.3" y1="395.7" x2="452.3" y2="397.9" stroke="#222" stroke-width="0.9"/>
<line x1="487.6" y1="395.7" x2="487.6" y2="397.9" stroke="#222" stroke-width="0.9"/>
<circle cx="448.9" cy="368.7" r="1.7" stroke="#1b4c78" fill="#fff" stroke-width="1.1"/>
<circle cx="448" cy="375.5" r="1.7" stroke="#1b4c78" fill="#fff" stroke-width="1.1"/>
<circle cx="453.2" cy="371.2" r="1.7" stroke="#1b4c78" fill="#fff" stroke-width="1.1"/>
<circle cx="456.6" cy="371.7" r="1.7" stroke="#1b4c78" fill="#fff" stroke-width="1.1"/>
<line x1="441.2" y1="372" x2="463.9" y2="372" stroke="#222" stroke-width="0.9"/>
<line x1="455.5" y1="368.3" x2="455.5" y2="375.1" stroke="#222" stroke-width="0.9"/>
<line x1="453" y1="368.3" x2="458" y2="368.3" stroke="#222" stroke-width="0.9"/>
<line x1="453" y1="375.1" x2="458" y2="375.1" stroke="#222" stroke-width="0.9"/>
<line x1="487.6" y1="321.3" x2="487.6" y2="362.6" stroke="#222" stroke-width="0.9"/>
<line x1="482" y1="321.3" x2="493" y2="321.3" stroke="#222" stroke-width="0.9"/>
<line x1="482" y1="362.6" x2="493" y2="362.6" stroke="#222" stroke-width="0.9"/>
<line x1="475.8" y1="342.1" x2="498.4" y2="342.1" stroke="#222" stroke-width="0.9"/>
<circle cx="487.6" cy="315.8" r="1.7" stroke="#c01632" fill="#fff" stroke-width="1.1"/>
<circle cx="487.6" cy="328.7" r="1.7" stroke="#c01632" fill="#fff" stroke-width="1.1"/>
<circle cx="487.6" cy="342.3" r="1.7" stroke="#c01632" fill="#fff" stroke-width="1.1"/>
<circle cx="487.6" cy="355.2" r="1.7" stroke="#c01632" fill="#fff" stroke-width="1.1"/>
<circle cx="487.6" cy="367.4" r="1.7" stroke="#c01632" fill="#fff" stroke-width="1.1"/>
<line x1="452.8" y1="303.5" x2="488.2" y2="303.5" stroke="#2a2a2a" stroke-width="1.0"/>
<circle cx="470.4" cy="299.4" r="1.1" fill="#333"/>
<text x="449.71" y="408.8" letter-spacing="-0.984" font-size="8.3" fill="#333" text-anchor="middle" stroke="#333" stroke-width="0.12">KaL</text>
<text x="484.61" y="408.8" letter-spacing="-0.576" font-size="8.3" fill="#333" text-anchor="middle" stroke="#333" stroke-width="0.12">KaL-5TGM1</text>
<circle cx="438.7" cy="419" r="1.75" stroke="#1b4c78" fill="#fff" stroke-width="1.2"/>
<text transform="translate(441.7,421.6) scale(0.9389,1)" font-size="8.2" fill="#333" stroke="#333" stroke-width="0.12">KaL</text>
<circle cx="463.4" cy="419" r="1.75" stroke="#c01632" fill="#fff" stroke-width="1.2"/>
<text transform="translate(467.7,421.6) scale(0.9471,1)" font-size="8.2" fill="#333" stroke="#333" stroke-width="0.12">KaL-5TGM1</text>
</svg>
<div style="position:absolute;left:0;top:0;width:518px;height:426px;border:1px solid #555;"></div>
</body></html>
